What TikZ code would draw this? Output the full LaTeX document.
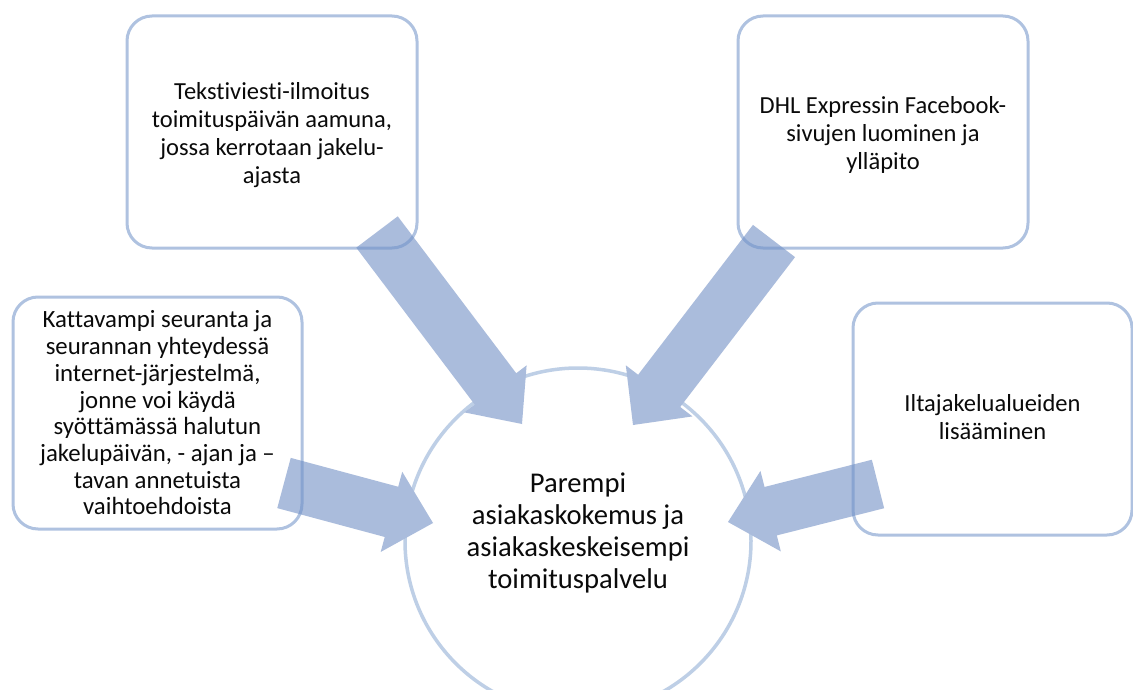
\documentclass[tikz,border=0pt]{standalone}
\usepackage{fontspec}
\setmainfont{Carlito}[Ligatures={NoCommon,NoRare}]
\usetikzlibrary{calc}

\definecolor{boxline}{RGB}{110,145,200}
\definecolor{ringline}{RGB}{190,207,230}
\definecolor{arrowfill}{RGB}{170,188,220}
\definecolor{txt}{RGB}{10,10,10}

\tikzset{
  idea/.style={draw=boxline, draw opacity=0.55, line width=3pt,
    rounded corners=25pt, minimum width=290pt, minimum height=232pt,
    inner sep=0pt, align=center, text=txt,
    font=\fontsize{24.5}{27.8}\selectfont},
  goal/.style={circle, draw=ringline, line width=3.5pt,
    minimum size=346pt, inner sep=0pt},
  goaltext/.style={align=center, text=txt,
    font=\fontsize{28.6}{31.7}\selectfont},
  flow/.style={fill=arrowfill},
}

% Block arrow: #1 tail, #2 tip, #3 half shaft width, #4 half head width, #5 head length
\newcommand\blockarrow[5]{%
  \coordinate (hb) at ($(#2)!#5!(#1)$);
  \fill[flow] ($(#1)!#3!90:(#2)$) -- ($(hb)!#3!90:(#2)$)
    -- ($(hb)!#4!90:(#2)$) -- (#2) -- ($(hb)!#4!-90:(#2)$)
    -- ($(hb)!#3!-90:(#2)$) -- ($(#1)!#3!-90:(#2)$) -- cycle;}

\begin{document}
\begin{tikzpicture}[x=1pt,y=-1pt]
  \useasboundingbox (0,0) rectangle (1133,690);
  \fill[white] (0,0) rectangle (1133,690);

  % central goal
  \node[goal] (c) at (578,541) {};

  % arrow end points
  \coordinate (s1) at (377,232); \coordinate (e1) at (522,424);
  \coordinate (s2) at (774,241); \coordinate (e2) at (633,425);
  \coordinate (s3) at (284,483); \coordinate (e3) at (433,523);
  \coordinate (s4) at (878,484); \coordinate (e4) at (728,522);

  \blockarrow{s1}{e1}{26pt}{39pt}{44pt}
  \blockarrow{s2}{e2}{26.5pt}{42pt}{43pt}
  \blockarrow{s3}{e3}{26pt}{41.5pt}{43pt}
  \blockarrow{s4}{e4}{25pt}{41.5pt}{44pt}

  % contributing measures
  \node[idea] (b1) at (272,132) {};
  \node[text=txt, align=center, font=\fontsize{24.5}{27.8}\selectfont]
    at ([yshift=-3pt]b1.center) {Tekstiviesti-ilmoitus\\toimituspäivän aamuna,\\jossa kerrotaan jakelu-\\ajasta};
  \node[idea] (b2) at (883,132) {};
  \node[text=txt, align=center, font=\fontsize{24.5}{27.8}\selectfont]
    at ([yshift=-3pt]b2.center) {DHL Expressin Facebook-\\sivujen luominen ja\\ylläpito};
  \node[idea, minimum width=289pt, font=\fontsize{24.8}{26.7}\selectfont] (b3) at (157.5,413)
    {Kattavampi seuranta ja\\seurannan yhteydessä\\internet-järjestelmä,\\jonne voi käydä\\syöttämässä halutun\\jakelupäivän, - ajan ja –\\tavan annetuista\\vaihtoehdoista};
  \node[idea, minimum width=279pt] (b4) at (992.5,419) {};
  \node[text=txt, align=center, font=\fontsize{24.5}{27.8}\selectfont]
    at ([yshift=2pt]b4.center) {Iltajakelualueiden\\lisääminen};

  \node[goaltext] (ct) at ([yshift=8pt]c.center) {Parempi\\asiakaskokemus ja\\asiakaskeskeisempi\\toimituspalvelu};
\end{tikzpicture}
\end{document}
